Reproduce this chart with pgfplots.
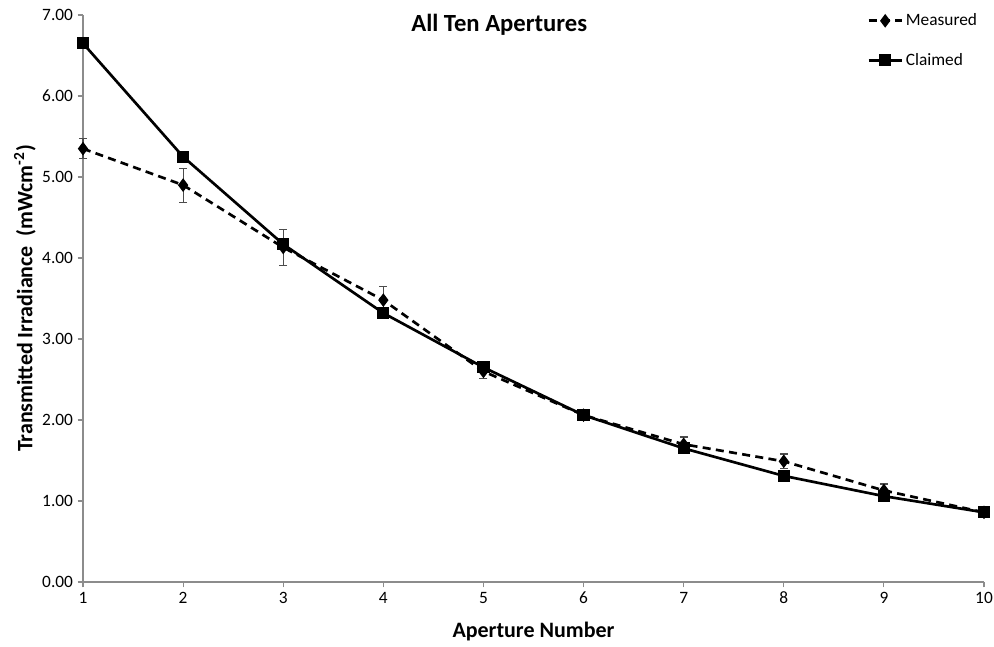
\documentclass[border=0pt]{standalone}
\usepackage{pgfplots}
\pgfplotsset{compat=1.18}
\usepackage{fontspec}
\setmainfont{Carlito}
\begin{document}
\begin{tikzpicture}
\begin{axis}[
  at={(0,0)}, anchor=south west,
  scale only axis,
  width=675.75pt, height=425.25pt,
  xmin=1, xmax=10, ymin=0, ymax=7,
  xtick={1,...,10}, ytick={0,1,...,7},
  axis x line*=bottom, axis y line*=left,
  axis line style={draw=black!45, line width=0.8pt},
  tick style={draw=black!45, line width=0.8pt},
  tick align=outside, major tick length=4pt,
  x axis line style={-}, y axis line style={-},
  /pgf/number format/assume math mode=true,
  yticklabel style={/pgf/number format/.cd, fixed, fixed zerofill, precision=2},
  ticklabel style={font=\fontsize{13}{15}\selectfont},
  xlabel={\textbf{Aperture Number}},
  ylabel={\textbf{Transmitted Irradiance\ \ (mWcm\textsuperscript{-2})}},
  label style={font=\fontsize{16.5}{19}\selectfont},
  xlabel style={yshift=-7pt},
  ylabel style={yshift=-2pt},
  title={\textbf{All Ten Apertures}},
  title style={at={(axis description cs:0.462,0.968)}, anchor=center, font=\fontsize{18.5}{21}\selectfont},
  legend style={at={(axis description cs:1.0,1.012)}, anchor=north east, draw=none, fill=none,
    font=\fontsize{13}{15}\selectfont, row sep=15pt},
  legend cell align=left,
  legend image code/.code={\draw[#1] (0cm,0cm) -- (0.88cm,0cm); \draw[#1,only marks] plot coordinates {(0.44cm,0cm)};},
  clip=false,
]
\addplot[black, line width=2pt, dash pattern=on 6pt off 4pt, mark=diamond*, mark size=3.5pt,
  mark options={solid},
  error bars/.cd, y dir=both, y explicit,
  error bar style={black!70, line width=0.8pt, solid}, error mark options={black!70, line width=0.8pt, mark size=3pt, rotate=90}]
  coordinates {
  (1,5.35) +- (0,0.12)
  (2,4.90) +- (0,0.21)
  (3,4.13) +- (0,0.22)
  (4,3.48) +- (0,0.17)
  (5,2.60) +- (0,0.09)
  (6,2.06) +- (0,0.04)
  (7,1.70) +- (0,0.09)
  (8,1.49) +- (0,0.09)
  (9,1.13) +- (0,0.08)
  (10,0.86) +- (0,0.03)
  };
\addlegendentry{Measured}
\addplot[black, line width=2pt, mark=square*, mark size=3.6pt, mark options={solid}]
  coordinates {
  (1,6.65) (2,5.25) (3,4.17) (4,3.32) (5,2.65)
  (6,2.06) (7,1.65) (8,1.31) (9,1.06) (10,0.86)
  };
\addlegendentry{Claimed}
\end{axis}
\pgfresetboundingbox
\path (-62.25pt,-48pt) rectangle (683.25pt,436.5pt);
\end{tikzpicture}
\end{document}
